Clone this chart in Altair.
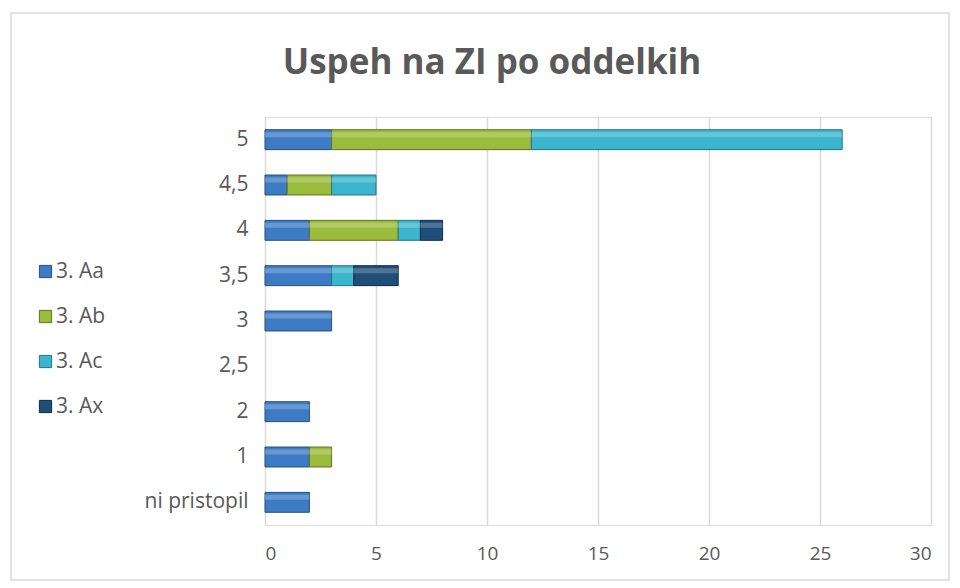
import altair as alt
import pandas as pd

categories = ["5", "4,5", "4", "3,5", "3", "2,5", "2", "1", "ni pristopil"]
series = ["3. Aa", "3. Ab", "3. Ac", "3. Ax"]
aa = [3, 1, 2, 3, 3, 0, 2, 2, 2]
ab = [9, 2, 4, 0, 0, 0, 0, 1, 0]
ac = [14, 2, 1, 1, 0, 0, 0, 0, 0]
ax = [0, 0, 1, 2, 0, 0, 0, 0, 0]
colors = ["#3d7cc4", "#9bbb3b", "#3bb6cc", "#1f4e79"]
strokes = ["#27507f", "#5f7424", "#237686", "#102a44"]

rows = []
for s_i, (name, vals) in enumerate(zip(series, [aa, ab, ac, ax])):
    for c, v in zip(categories, vals):
        rows.append({"ocena": c, "oddelek": name, "stevilo": v, "ord": s_i})
df = pd.DataFrame(rows)
df = df[df["stevilo"] > 0]

W, H = 666, 408
FS = 21

x_enc = alt.X("stevilo:Q", stack="zero",
              scale=alt.Scale(domain=[0, 30], nice=False),
              axis=alt.Axis(values=[0, 5, 10, 15, 20, 25, 30], title=None, grid=True,
                            gridColor="#d9d9d9", gridWidth=1.5, domain=False, ticks=False,
                            labelFontSize=19, labelColor="#595959", labelPadding=19,
                            labelFont="Open Sans"))
y_enc = alt.Y("ocena:N", sort=categories,
              scale=alt.Scale(domain=categories, paddingInner=0.56, paddingOuter=0.28),
              axis=alt.Axis(title=None, domain=False, ticks=False, labelFontSize=FS,
                            labelColor="#595959", labelPadding=17, labelFont="Open Sans"))

bars = alt.Chart(df).mark_bar(strokeWidth=1).encode(
    x=x_enc,
    y=y_enc,
    color=alt.Color("oddelek:N",
                    scale=alt.Scale(domain=series, range=colors),
                    legend=alt.Legend(title=None, orient="none", legendX=-230, legendY=144,
                                      symbolType="square", symbolSize=150,
                                      symbolStrokeWidth=1, symbolStrokeColor="#27507f",
                                      labelFontSize=FS, labelColor="#595959",
                                      labelFont="Open Sans", rowPadding=23, labelOffset=0)),
    stroke=alt.Stroke("oddelek:N", scale=alt.Scale(domain=series, range=strokes), legend=None),
    order=alt.Order("ord:Q"),
)

shine = alt.Chart(df).mark_bar(height=5, yOffset=-5, color="white", opacity=0.22,
                               strokeWidth=0).encode(
    x=alt.X("stevilo:Q", stack="zero"),
    y=alt.Y("ocena:N", sort=categories),
    detail="oddelek:N",
    order=alt.Order("ord:Q"),
)

frame = alt.Chart(pd.DataFrame({"a": [0]})).mark_rect(
    fill=None, stroke="#d9d9d9", strokeWidth=1.5, clip=False
).encode(
    x=alt.value(-254), x2=alt.value(684), y=alt.value(-104), y2=alt.value(463)
)

chart = alt.layer(frame, bars, shine).properties(
    width=W, height=H,
    title=alt.Title("Uspeh na ZI po oddelkih", fontSize=35, fontWeight="bold",
                    color="#595959", font="Open Sans", dx=-106, offset=0, dy=86,
                    baseline="middle", anchor="middle", frame="group"),
    autosize=alt.AutoSizeParams(type="none"),
    padding={"left": 257, "top": 109, "right": 20, "bottom": 60},
).configure_view(stroke=None).configure(background="white")

chart.save("out.html", embed_options={"renderer": "svg", "actions": False})
